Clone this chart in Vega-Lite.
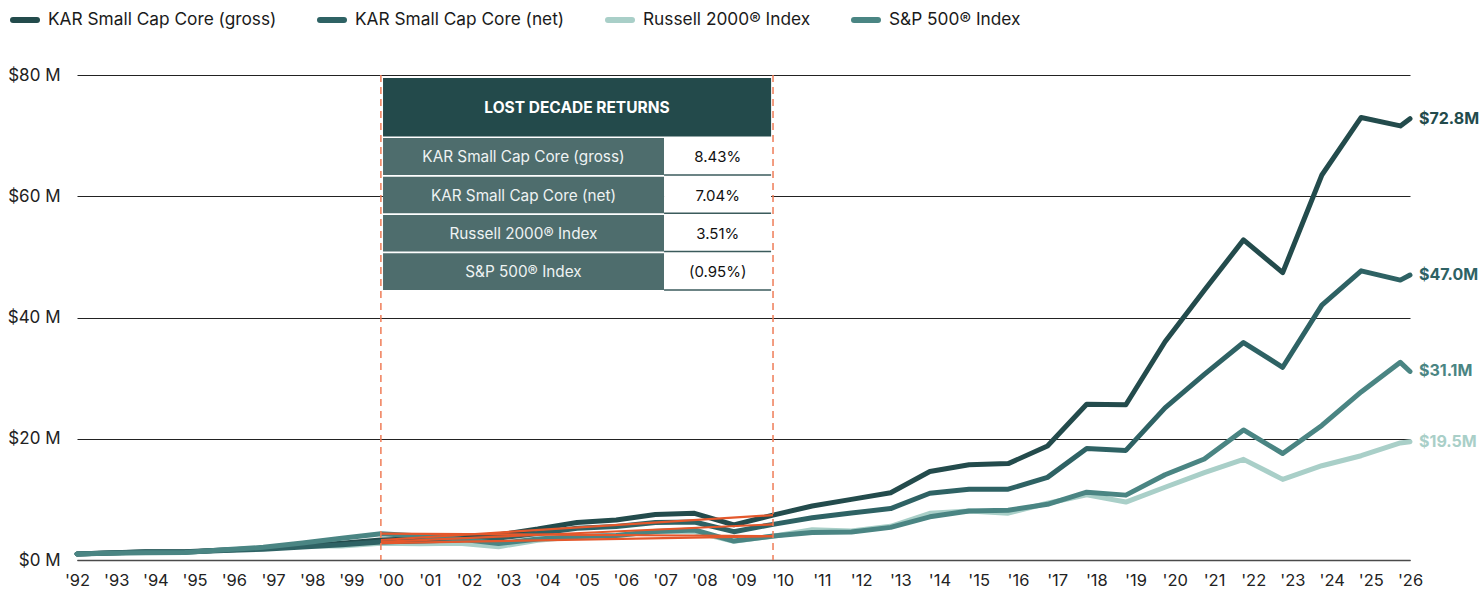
{
  "$schema": "https://vega.github.io/schema/vega-lite/v6.json",
  "width": 1333,
  "height": 485,
  "autosize": {"type": "none"},
  "padding": {"left": 77, "top": 75, "right": 71, "bottom": 34},
  "background": "#ffffff",
  "config": {"font": "Inter", "view": {"stroke": null}},
  "datasets": {
    "series": [
      {"date": "1992-04-01", "gross": 1.0, "net": 1.0, "russell": 1.0, "sp": 1.0},
      {"date": "1993-01-01", "gross": 1.15, "net": 1.14, "russell": 1.10, "sp": 1.10},
      {"date": "1994-01-01", "gross": 1.35, "net": 1.32, "russell": 1.31, "sp": 1.21},
      {"date": "1995-01-01", "gross": 1.35, "net": 1.30, "russell": 1.28, "sp": 1.23},
      {"date": "1996-01-01", "gross": 1.65, "net": 1.57, "russell": 1.65, "sp": 1.70},
      {"date": "1997-01-01", "gross": 1.90, "net": 1.79, "russell": 1.92, "sp": 2.09},
      {"date": "1998-01-01", "gross": 2.30, "net": 2.13, "russell": 2.35, "sp": 2.79},
      {"date": "1999-01-01", "gross": 2.75, "net": 2.52, "russell": 2.29, "sp": 3.59},
      {"date": "2000-01-01", "gross": 3.30, "net": 2.98, "russell": 2.78, "sp": 4.34},
      {"date": "2001-01-01", "gross": 3.50, "net": 3.12, "russell": 2.70, "sp": 3.95},
      {"date": "2002-01-01", "gross": 3.75, "net": 3.30, "russell": 2.76, "sp": 3.48},
      {"date": "2003-01-01", "gross": 4.15, "net": 3.61, "russell": 2.20, "sp": 2.71},
      {"date": "2004-01-01", "gross": 5.10, "net": 4.38, "russell": 3.24, "sp": 3.48},
      {"date": "2005-01-01", "gross": 6.20, "net": 5.25, "russell": 3.83, "sp": 3.86},
      {"date": "2006-01-01", "gross": 6.60, "net": 5.52, "russell": 4.00, "sp": 4.05},
      {"date": "2007-01-01", "gross": 7.50, "net": 6.19, "russell": 4.74, "sp": 4.69},
      {"date": "2008-01-01", "gross": 7.70, "net": 6.27, "russell": 4.66, "sp": 4.95},
      {"date": "2009-01-01", "gross": 5.80, "net": 4.67, "russell": 3.09, "sp": 3.12},
      {"date": "2010-01-01", "gross": 7.40, "net": 5.88, "russell": 3.93, "sp": 3.95},
      {"date": "2011-01-01", "gross": 8.90, "net": 6.97, "russell": 4.98, "sp": 4.54},
      {"date": "2012-01-01", "gross": 10.0, "net": 7.74, "russell": 4.77, "sp": 4.63},
      {"date": "2013-01-01", "gross": 11.1, "net": 8.48, "russell": 5.55, "sp": 5.38},
      {"date": "2014-01-01", "gross": 14.6, "net": 11.01, "russell": 7.71, "sp": 7.12},
      {"date": "2015-01-01", "gross": 15.7, "net": 11.68, "russell": 8.08, "sp": 8.09},
      {"date": "2016-01-01", "gross": 15.9, "net": 11.68, "russell": 7.73, "sp": 8.21},
      {"date": "2017-01-01", "gross": 18.8, "net": 13.63, "russell": 9.37, "sp": 9.19},
      {"date": "2018-01-01", "gross": 25.7, "net": 18.39, "russell": 10.74, "sp": 11.19},
      {"date": "2019-01-01", "gross": 25.6, "net": 18.08, "russell": 9.56, "sp": 10.70},
      {"date": "2020-01-01", "gross": 36.0, "net": 25.10, "russell": 12.0, "sp": 14.07},
      {"date": "2021-01-01", "gross": 44.5, "net": 30.62, "russell": 14.40, "sp": 16.66},
      {"date": "2022-01-01", "gross": 52.8, "net": 35.87, "russell": 16.60, "sp": 21.45},
      {"date": "2023-01-01", "gross": 47.4, "net": 31.79, "russell": 13.30, "sp": 17.57},
      {"date": "2024-01-01", "gross": 63.5, "net": 42.03, "russell": 15.55, "sp": 22.19},
      {"date": "2025-01-01", "gross": 73.0, "net": 47.70, "russell": 17.20, "sp": 27.73},
      {"date": "2026-01-01", "gross": 71.6, "net": 46.17, "russell": 19.30, "sp": 32.6},
      {"date": "2026-04-01", "gross": 72.8, "net": 47.0, "russell": 19.5, "sp": 31.1}
    ],
    "table": [
      {"row": 1, "label": "KAR Small Cap Core (gross)", "value": "8.43%"},
      {"row": 2, "label": "KAR Small Cap Core (net)", "value": "7.04%"},
      {"row": 3, "label": "Russell 2000® Index", "value": "3.51%"},
      {"row": 4, "label": "S&P 500® Index", "value": "(0.95%)"}
    ],
    "decade": [
      {"date": "2000-01-01"},
      {"date": "2010-01-01"}
    ]
  },
  "layer": [
    {
      "data": {"name": "series"},
      "transform": [{"fold": ["russell", "gross", "net", "sp"], "as": ["series", "value"]}],
      "layer": [
        {
          "mark": {"type": "line", "strokeWidth": 5, "strokeCap": "round", "strokeJoin": "round"},
          "encoding": {
            "x": {
              "field": "date", "type": "temporal",
              "scale": {"type": "utc", "domain": [{"year": 1992, "month": 4, "date": 1, "utc": true}, {"year": 2026, "month": 4, "date": 1, "utc": true}]},
              "axis": {
                "title": null,
                "labelExpr": "\"'\" + utcFormat(datum.value, '%y')",
                "tickCount": 60,
                "values": [
                  {"year": 1992, "month": 4, "date": 1, "utc": true}, {"year": 1993, "month": 4, "date": 1, "utc": true},
                  {"year": 1994, "month": 4, "date": 1, "utc": true}, {"year": 1995, "month": 4, "date": 1, "utc": true},
                  {"year": 1996, "month": 4, "date": 1, "utc": true}, {"year": 1997, "month": 4, "date": 1, "utc": true},
                  {"year": 1998, "month": 4, "date": 1, "utc": true}, {"year": 1999, "month": 4, "date": 1, "utc": true},
                  {"year": 2000, "month": 4, "date": 1, "utc": true}, {"year": 2001, "month": 4, "date": 1, "utc": true},
                  {"year": 2002, "month": 4, "date": 1, "utc": true}, {"year": 2003, "month": 4, "date": 1, "utc": true},
                  {"year": 2004, "month": 4, "date": 1, "utc": true}, {"year": 2005, "month": 4, "date": 1, "utc": true},
                  {"year": 2006, "month": 4, "date": 1, "utc": true}, {"year": 2007, "month": 4, "date": 1, "utc": true},
                  {"year": 2008, "month": 4, "date": 1, "utc": true}, {"year": 2009, "month": 4, "date": 1, "utc": true},
                  {"year": 2010, "month": 4, "date": 1, "utc": true}, {"year": 2011, "month": 4, "date": 1, "utc": true},
                  {"year": 2012, "month": 4, "date": 1, "utc": true}, {"year": 2013, "month": 4, "date": 1, "utc": true},
                  {"year": 2014, "month": 4, "date": 1, "utc": true}, {"year": 2015, "month": 4, "date": 1, "utc": true},
                  {"year": 2016, "month": 4, "date": 1, "utc": true}, {"year": 2017, "month": 4, "date": 1, "utc": true},
                  {"year": 2018, "month": 4, "date": 1, "utc": true}, {"year": 2019, "month": 4, "date": 1, "utc": true},
                  {"year": 2020, "month": 4, "date": 1, "utc": true}, {"year": 2021, "month": 4, "date": 1, "utc": true},
                  {"year": 2022, "month": 4, "date": 1, "utc": true}, {"year": 2023, "month": 4, "date": 1, "utc": true},
                  {"year": 2024, "month": 4, "date": 1, "utc": true}, {"year": 2025, "month": 4, "date": 1, "utc": true},
                  {"year": 2026, "month": 4, "date": 1, "utc": true}
                ],
                "labelAlign": "center", "labelFontSize": 16.5, "labelColor": "#222222", "labelPadding": 12,
                "labelOverlap": false, "labelBound": false, "labelFlush": false,
                "ticks": false, "grid": false, "domain": true, "domainColor": "#4a4a4a", "domainWidth": 1.5
              }
            },
            "y": {
              "field": "value", "type": "quantitative",
              "scale": {"domain": [0, 80], "nice": false},
              "axis": {
                "title": null, "values": [0, 20, 40, 60, 80],
                "labelExpr": "'$' + datum.value + ' M'",
                "labelFontSize": 17, "labelColor": "#222222", "labelPadding": 17,
                "ticks": false, "domain": false, "grid": true, "gridColor": "#222222", "gridWidth": 1
              }
            },
            "color": {
              "field": "series", "type": "nominal",
              "scale": {"domain": ["gross", "net", "russell", "sp"], "range": ["#234B4C", "#2E6264", "#A9CFC8", "#4A8583"]},
              "legend": {
                "title": null, "orient": "none", "direction": "horizontal",
                "legendX": -67, "legendY": -70,
                "labelExpr": "datum.value == 'gross' ? 'KAR Small Cap Core (gross)' : datum.value == 'net' ? 'KAR Small Cap Core (net)' : datum.value == 'russell' ? 'Russell 2000® Index' : 'S&P 500® Index'",
                "symbolType": "stroke", "symbolStrokeWidth": 6, "symbolSize": 576,
                "labelFontSize": 17.3, "labelColor": "#1a1a1a", "labelLimit": 400, "labelOffset": 8,
                "columnPadding": 31,
                "encode": {"symbols": {"update": {"strokeCap": {"value": "round"}}}}
              }
            }
          }
        },
        {
          "transform": [{"filter": "utcyear(datum.date) == 2000 || utcyear(datum.date) == 2010"}],
          "mark": {"type": "line", "stroke": "#E4582C", "strokeWidth": 2.2},
          "encoding": {
            "x": {"field": "date", "type": "temporal"},
            "y": {"field": "value", "type": "quantitative"},
            "detail": {"field": "series", "type": "nominal"}
          }
        },
        {
          "transform": [{"filter": "time(datum.date) > utc(2026, 1, 15)"}],
          "mark": {"type": "text", "align": "left", "baseline": "middle", "dx": 9, "fontSize": 16, "fontWeight": "bold",
                   "text": {"expr": "'$' + format(datum.value, '.1f') + 'M'"}},
          "encoding": {
            "x": {"field": "date", "type": "temporal"},
            "y": {"field": "value", "type": "quantitative"},
            "color": {"field": "series", "type": "nominal", "legend": null}
          }
        }
      ]
    },
    {
      "data": {"name": "decade"},
      "mark": {"type": "rule", "stroke": "#EF7D58", "strokeWidth": 1.5, "strokeDash": [7, 5]},
      "encoding": {"x": {"field": "date", "type": "temporal"}}
    },
    {
      "data": {"name": "table"},
      "transform": [{"filter": "datum.row == 1"}],
      "layer": [
        {
          "mark": {"type": "rect", "fill": "#234A4B"},
          "encoding": {
            "x": {"datum": {"year": 2000, "month": 1, "date": 21, "utc": true}, "type": "temporal"},
            "x2": {"datum": {"year": 2009, "month": 12, "date": 14, "utc": true}},
            "y": {"datum": 79.5, "type": "quantitative"},
            "y2": {"datum": 69.85}
          }
        },
        {
          "mark": {"type": "text", "color": "#ffffff", "fontSize": 15.5, "fontWeight": "bold", "align": "center", "baseline": "middle", "text": "LOST DECADE RETURNS"},
          "encoding": {
            "x": {"datum": {"year": 2005, "month": 1, "date": 1, "utc": true}, "type": "temporal"},
            "y": {"datum": 74.5, "type": "quantitative"}
          }
        }
      ]
    },
    {
      "data": {"name": "table"},
      "transform": [{"filter": "datum.row == 1"}],
      "layer": [
        {"mark": {"type": "rect", "fill": "#4E6D6D"}, "encoding": {"x": {"datum": {"year": 2000, "month": 1, "date": 21, "utc": true}, "type": "temporal"}, "x2": {"datum": {"year": 2007, "month": 3, "date": 23, "utc": true}}, "y": {"datum": 69.6, "type": "quantitative"}, "y2": {"datum": 63.5}}},
        {"mark": {"type": "rect", "fill": "#ffffff"}, "encoding": {"x": {"datum": {"year": 2007, "month": 3, "date": 23, "utc": true}, "type": "temporal"}, "x2": {"datum": {"year": 2009, "month": 12, "date": 14, "utc": true}}, "y": {"datum": 69.6, "type": "quantitative"}, "y2": {"datum": 63.5}}},
        {"mark": {"type": "rule", "stroke": "#3B5B5C", "strokeWidth": 1.5}, "encoding": {"x": {"datum": {"year": 2007, "month": 3, "date": 23, "utc": true}, "type": "temporal"}, "x2": {"datum": {"year": 2009, "month": 12, "date": 14, "utc": true}}, "y": {"datum": 63.5, "type": "quantitative"}}},
        {"mark": {"type": "text", "color": "#EEF3F3", "fontSize": 15.3, "align": "center", "baseline": "middle"}, "encoding": {"x": {"datum": {"year": 2003, "month": 8, "date": 21, "utc": true}, "type": "temporal"}, "y": {"datum": 66.4, "type": "quantitative"}, "text": {"field": "label"}}},
        {"mark": {"type": "text", "color": "#111111", "fontSize": 15, "align": "center", "baseline": "middle"}, "encoding": {"x": {"datum": {"year": 2008, "month": 8, "date": 4, "utc": true}, "type": "temporal"}, "y": {"datum": 66.4, "type": "quantitative"}, "text": {"field": "value"}}}
      ]
    },
    {
      "data": {"name": "table"},
      "transform": [{"filter": "datum.row == 2"}],
      "layer": [
        {"mark": {"type": "rect", "fill": "#4E6D6D"}, "encoding": {"x": {"datum": {"year": 2000, "month": 1, "date": 21, "utc": true}, "type": "temporal"}, "x2": {"datum": {"year": 2007, "month": 3, "date": 23, "utc": true}}, "y": {"datum": 63.2, "type": "quantitative"}, "y2": {"datum": 57.2}}},
        {"mark": {"type": "rect", "fill": "#ffffff"}, "encoding": {"x": {"datum": {"year": 2007, "month": 3, "date": 23, "utc": true}, "type": "temporal"}, "x2": {"datum": {"year": 2009, "month": 12, "date": 14, "utc": true}}, "y": {"datum": 63.2, "type": "quantitative"}, "y2": {"datum": 57.2}}},
        {"mark": {"type": "rule", "stroke": "#3B5B5C", "strokeWidth": 1.5}, "encoding": {"x": {"datum": {"year": 2007, "month": 3, "date": 23, "utc": true}, "type": "temporal"}, "x2": {"datum": {"year": 2009, "month": 12, "date": 14, "utc": true}}, "y": {"datum": 57.2, "type": "quantitative"}}},
        {"mark": {"type": "text", "color": "#EEF3F3", "fontSize": 15.3, "align": "center", "baseline": "middle"}, "encoding": {"x": {"datum": {"year": 2003, "month": 8, "date": 21, "utc": true}, "type": "temporal"}, "y": {"datum": 60.05, "type": "quantitative"}, "text": {"field": "label"}}},
        {"mark": {"type": "text", "color": "#111111", "fontSize": 15, "align": "center", "baseline": "middle"}, "encoding": {"x": {"datum": {"year": 2008, "month": 8, "date": 4, "utc": true}, "type": "temporal"}, "y": {"datum": 60.05, "type": "quantitative"}, "text": {"field": "value"}}}
      ]
    },
    {
      "data": {"name": "table"},
      "transform": [{"filter": "datum.row == 3"}],
      "layer": [
        {"mark": {"type": "rect", "fill": "#4E6D6D"}, "encoding": {"x": {"datum": {"year": 2000, "month": 1, "date": 21, "utc": true}, "type": "temporal"}, "x2": {"datum": {"year": 2007, "month": 3, "date": 23, "utc": true}}, "y": {"datum": 56.9, "type": "quantitative"}, "y2": {"datum": 50.9}}},
        {"mark": {"type": "rect", "fill": "#ffffff"}, "encoding": {"x": {"datum": {"year": 2007, "month": 3, "date": 23, "utc": true}, "type": "temporal"}, "x2": {"datum": {"year": 2009, "month": 12, "date": 14, "utc": true}}, "y": {"datum": 56.9, "type": "quantitative"}, "y2": {"datum": 50.9}}},
        {"mark": {"type": "rule", "stroke": "#3B5B5C", "strokeWidth": 1.5}, "encoding": {"x": {"datum": {"year": 2007, "month": 3, "date": 23, "utc": true}, "type": "temporal"}, "x2": {"datum": {"year": 2009, "month": 12, "date": 14, "utc": true}}, "y": {"datum": 50.9, "type": "quantitative"}}},
        {"mark": {"type": "text", "color": "#EEF3F3", "fontSize": 15.3, "align": "center", "baseline": "middle"}, "encoding": {"x": {"datum": {"year": 2003, "month": 8, "date": 21, "utc": true}, "type": "temporal"}, "y": {"datum": 53.75, "type": "quantitative"}, "text": {"field": "label"}}},
        {"mark": {"type": "text", "color": "#111111", "fontSize": 15, "align": "center", "baseline": "middle"}, "encoding": {"x": {"datum": {"year": 2008, "month": 8, "date": 4, "utc": true}, "type": "temporal"}, "y": {"datum": 53.75, "type": "quantitative"}, "text": {"field": "value"}}}
      ]
    },
    {
      "data": {"name": "table"},
      "transform": [{"filter": "datum.row == 4"}],
      "layer": [
        {"mark": {"type": "rect", "fill": "#4E6D6D"}, "encoding": {"x": {"datum": {"year": 2000, "month": 1, "date": 21, "utc": true}, "type": "temporal"}, "x2": {"datum": {"year": 2007, "month": 3, "date": 23, "utc": true}}, "y": {"datum": 50.6, "type": "quantitative"}, "y2": {"datum": 44.55}}},
        {"mark": {"type": "rect", "fill": "#ffffff"}, "encoding": {"x": {"datum": {"year": 2007, "month": 3, "date": 23, "utc": true}, "type": "temporal"}, "x2": {"datum": {"year": 2009, "month": 12, "date": 14, "utc": true}}, "y": {"datum": 50.6, "type": "quantitative"}, "y2": {"datum": 44.55}}},
        {"mark": {"type": "rule", "stroke": "#3B5B5C", "strokeWidth": 1.5}, "encoding": {"x": {"datum": {"year": 2007, "month": 3, "date": 23, "utc": true}, "type": "temporal"}, "x2": {"datum": {"year": 2009, "month": 12, "date": 14, "utc": true}}, "y": {"datum": 44.55, "type": "quantitative"}}},
        {"mark": {"type": "text", "color": "#EEF3F3", "fontSize": 15.3, "align": "center", "baseline": "middle"}, "encoding": {"x": {"datum": {"year": 2003, "month": 8, "date": 21, "utc": true}, "type": "temporal"}, "y": {"datum": 47.45, "type": "quantitative"}, "text": {"field": "label"}}},
        {"mark": {"type": "text", "color": "#111111", "fontSize": 15, "align": "center", "baseline": "middle"}, "encoding": {"x": {"datum": {"year": 2008, "month": 8, "date": 4, "utc": true}, "type": "temporal"}, "y": {"datum": 47.45, "type": "quantitative"}, "text": {"field": "value"}}}
      ]
    }
  ]
}
